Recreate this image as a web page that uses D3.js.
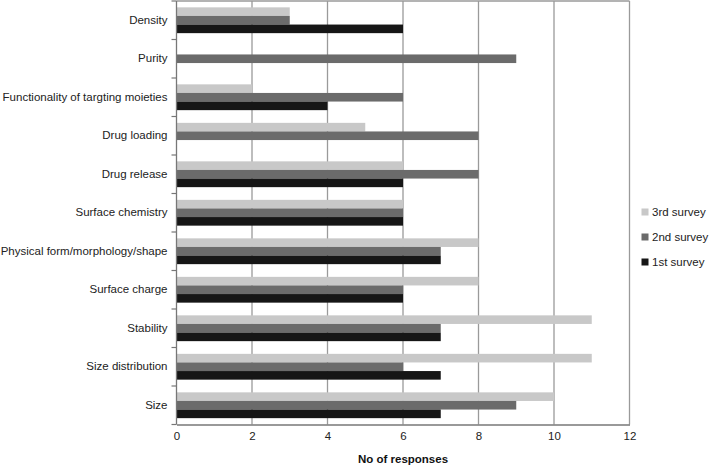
<!DOCTYPE html>
<html><head><meta charset="utf-8">
<script src="https://cdn.jsdelivr.net/npm/d3@7"></script>
<style>body{margin:0;background:#fff;font-family:"Liberation Sans",Arial,sans-serif;}</style>
</head><body><svg id="c" width="709" height="466"></svg>
<script>
const categories = ["Density","Purity","Functionality of targting moieties","Drug loading","Drug release","Surface chemistry","Physical form/morphology/shape","Surface charge","Stability","Size distribution","Size"];
const series = ["3rd survey","2nd survey","1st survey"];
const survey3 = [3,0,2,5,6,6,8,8,11,11,10];
const survey2 = [3,9,6,8,8,6,7,6,7,6,9];
const survey1 = [6,0,4,0,6,6,7,6,7,7,7];
const xTicks = [0,2,4,6,8,10,12];
const colors = ["#c8c8c8","#6b6b6b","#161616"];
const values = [survey3, survey2, survey1];

const svg = d3.select("#c");
const m = {l:176.5, r:629.5, t:1, b:424.5};
const x = d3.scaleLinear().domain([0,12]).range([m.l, m.r]);
const y = d3.scaleBand().domain(categories).range([m.t, m.b]).paddingInner(0.33).paddingOuter(0.165);
const yi = d3.scaleBand().domain(series).range([0, y.bandwidth()]);

// gridlines
svg.append("g").selectAll("line").data(xTicks.slice(1)).join("line")
  .attr("x1", d=>x(d)).attr("x2", d=>x(d)).attr("y1", m.t).attr("y2", m.b)
  .attr("stroke", "#9a9a9a").attr("stroke-width", 1.3);
svg.append("line").attr("x1", m.l).attr("x2", m.r).attr("y1", m.t).attr("y2", m.t)
  .attr("stroke", "#9a9a9a").attr("stroke-width", 1.3);

// bars
const g = svg.append("g");
series.forEach((s, si) => {
  g.selectAll(null).data(categories).join("rect")
    .attr("x", x(0))
    .attr("y", c => y(c) + yi(s))
    .attr("width", (c,i) => x(values[si][i]) - x(0))
    .attr("height", yi.bandwidth())
    .attr("fill", colors[si]);
});

// y axis
const yAxis = d3.axisLeft(y).tickSize(0).tickPadding(9);
const ya = svg.append("g").attr("transform", `translate(${m.l},0)`).call(yAxis);
ya.select(".domain").remove();
ya.selectAll("text").attr("font-size", 11.5).attr("fill", "#222").attr("font-family", "Liberation Sans, Arial, sans-serif");
// boundary ticks
const bounds = categories.map(c => y(c) - y.step()*y.paddingInner()/2).concat([m.b]);
svg.append("g").selectAll("line").data(bounds).join("line")
  .attr("x1", m.l-5).attr("x2", m.l).attr("y1", d=>d).attr("y2", d=>d)
  .attr("stroke", "#777").attr("stroke-width", 1.2);
svg.append("line").attr("x1", m.l).attr("x2", m.l).attr("y1", m.t).attr("y2", m.b)
  .attr("stroke", "#777").attr("stroke-width", 1.3);

// x axis
const xa = svg.append("g").attr("transform", `translate(0,${m.b})`)
  .call(d3.axisBottom(x).tickValues(xTicks).tickSize(0).tickPadding(7));
xa.select(".domain").attr("stroke", "#777").attr("stroke-width", 1.3);
xa.selectAll("text").attr("font-size", 11.5).attr("fill", "#222").attr("font-family", "Liberation Sans, Arial, sans-serif");

svg.append("text").attr("x", (m.l+m.r)/2).attr("y", 463).attr("text-anchor","middle")
  .attr("font-size", 11.5).attr("font-weight","bold").attr("fill","#111").text("No of responses");

// legend
const lg = svg.append("g");
series.forEach((s, i) => {
  const cy = 212 + i*25;
  lg.append("rect").attr("x", 641.5).attr("y", cy-3.5).attr("width", 7).attr("height", 7).attr("fill", colors[i]);
  lg.append("text").attr("x", 652).attr("y", cy).attr("dy", "0.35em")
    .attr("font-size", 11.5).attr("fill", "#222").text(s);
});
</script></body></html>
